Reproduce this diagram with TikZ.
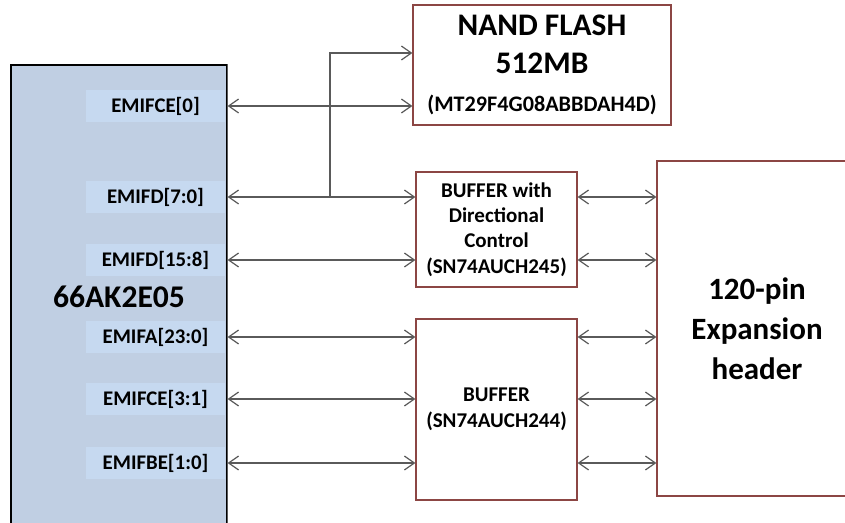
\documentclass[tikz,border=0pt]{standalone}
\usepackage{fontspec}
\setmainfont{Carlito}
\usetikzlibrary{arrows.meta}
\definecolor{chipfill}{RGB}{192,207,227}
\definecolor{pinfill}{RGB}{198,217,240}
\definecolor{boxline}{RGB}{140,70,68}
\definecolor{wire}{RGB}{90,90,90}
\begin{document}
\begin{tikzpicture}[x=0.5pt,y=-0.5pt,font=\bfseries,
	pin/.style={fill=pinfill, minimum width=69.5pt, minimum height=16pt, inner sep=0pt,
		font=\bfseries\fontsize{10.4}{12}\selectfont},
	blk/.style={draw=boxline, line width=0.6pt, align=center, inner sep=0pt},
	bus/.style={draw=wire, line width=0.6pt,
		{Straight Barb[length=5pt,width=7pt]}-{Straight Barb[length=5pt,width=7pt]}},
	tap/.style={draw=wire, line width=0.6pt, -{Straight Barb[length=5pt,width=7pt]}}]
		% frame
		\clip (0,0) rectangle (845,523);
		
		% Processor
		\node[fill=chipfill, draw=black, line width=0.6pt, minimum width=108pt,
		minimum height=240pt, inner sep=0pt] (chip) at (119,305) {};
		\draw[wire, line width=0.6pt] (chip.north east) -- (chip.south east);
		\node[font=\bfseries\fontsize{15.8}{19}\selectfont] (chipname) at (119,297) {66AK2E05};
		
		\node[pin] (ce0) at (155.5,106) {EMIFCE[0]};
		\node[pin] (d7) at (155.5,197) {EMIFD[7:0]};
		\node[pin] (d15) at (155.5,260) {EMIFD[15:8]};
		\node[pin] (a23) at (155.5,337) {EMIFA[23:0]};
		\node[pin] (ce31) at (155.5,399) {EMIFCE[3:1]};
		\node[pin] (be10) at (155.5,463) {EMIFBE[1:0]};
		
		% Blocks
		\node[blk, minimum width=129pt, minimum height=60pt, font=\bfseries\fontsize{15.7}{19}\selectfont] (nand) at (542,65)
		{NAND FLASH\\ 512MB\\ \fontsize{11.1}{19}\selectfont (MT29F4G08ABBDAH4D)};
		\node[blk, minimum width=80.5pt, minimum height=57.5pt, font=\bfseries\fontsize{10.5}{12.6}\selectfont] (buf1) at (496.5,229.5)
		{BUFFER with\\ Directional\\ Control\\ (SN74AUCH245)};
		\node[blk, minimum width=80.5pt, minimum height=90.5pt, font=\bfseries\fontsize{10.5}{13}\selectfont] (buf2) at (496.5,409.5)
		{BUFFER\\ (SN74AUCH244)};
		\node[blk, minimum width=100pt, minimum height=167.5pt, font=\bfseries\fontsize{15.5}{20}\selectfont] (hdr) at (757,328.5)
		{120-pin\\ Expansion\\ header};
		
		% Buses
		\draw[bus] (ce0 -| chip.east) -- (ce0 -| nand.west);
		\draw[bus] (d7 -| chip.east) -- (d7 -| buf1.west);
		\draw[bus] (d15 -| chip.east) -- (d15 -| buf1.west);
		\draw[bus] (a23 -| chip.east) -- (a23 -| buf2.west);
		\draw[bus] (ce31 -| chip.east) -- (ce31 -| buf2.west);
		\draw[bus] (be10 -| chip.east) -- (be10 -| buf2.west);
		
		\coordinate (split) at (330,0 |- d7);
		\draw[tap] (split) |- ([yshift=6pt]nand.west);
		
		\draw[bus] (d7 -| buf1.east) -- (d7 -| hdr.west);
		\draw[bus] (d15 -| buf1.east) -- (d15 -| hdr.west);
		\draw[bus] (a23 -| buf2.east) -- (a23 -| hdr.west);
		\draw[bus] (ce31 -| buf2.east) -- (ce31 -| hdr.west);
		\draw[bus] (be10 -| buf2.east) -- (be10 -| hdr.west);
	\end{tikzpicture}
\end{document}
